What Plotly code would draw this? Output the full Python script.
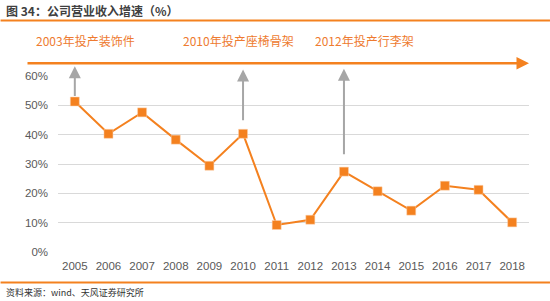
import plotly.graph_objects as go

years = ["2005", "2006", "2007", "2008", "2009", "2010", "2011",
         "2012", "2013", "2014", "2015", "2016", "2017", "2018"]
growth = [0.513, 0.403, 0.476, 0.383, 0.294, 0.403, 0.092,
          0.110, 0.274, 0.207, 0.141, 0.226, 0.212, 0.101]
y_ticks = [0, 0.1, 0.2, 0.3, 0.4, 0.5, 0.6]
y_tick_labels = ["0%", "10%", "20%", "30%", "40%", "50%", "60%"]

events = ["2005", "2010", "2013"]
event_tip = [0.633, 0.622, 0.625]
event_tail = [0.527, 0.444, 0.328]
event_labels = ["2003年投产装饰件", "2010年投产座椅骨架", "2012年投产行李架"]
event_label_x = [-0.052, 0.262, 0.542]

ORANGE = "#F4811F"
GREY_ARROW = "#A6A6A6"
TXT_ORANGE = "#EE7B30"

fig = go.Figure()
fig.add_trace(go.Scatter(
    x=years, y=growth, mode="lines+markers",
    line=dict(color=ORANGE, width=2),
    marker=dict(symbol="square", size=9, color=ORANGE,
                line=dict(color="#FAD3B0", width=0.5)),
    cliponaxis=False, showlegend=False,
))

annotations = []
for yr, tip, tail in zip(events, event_tip, event_tail):
    annotations.append(dict(
        x=years.index(yr), y=tip, xref="x", yref="y",
        ax=0, ay=tail, axref="pixel", ayref="y",
        text="", showarrow=True, arrowhead=2, arrowsize=1.2,
        arrowwidth=2, arrowcolor=GREY_ARROW,
    ))
for lab, lx in zip(event_labels, event_label_x):
    annotations.append(dict(
        x=lx, y=1.2, xref="paper", yref="paper", text=lab,
        showarrow=False, xanchor="left", yanchor="middle",
        font=dict(family="Noto Sans CJK SC", size=12, color=TXT_ORANGE),
    ))
# long orange timeline arrow
annotations.append(dict(
    x=1.0, y=1.072, xref="paper", yref="paper",
    ax=-503, ay=0, axref="pixel", ayref="pixel",
    text="", showarrow=True, arrowhead=2, arrowsize=1.0,
    arrowwidth=2.5, arrowcolor=ORANGE,
))
# title
annotations.append(dict(
    x=3, y=10, xref="paper", yref="paper", text="<b>图 34：公司营业收入增速（%）</b>",
    showarrow=False, xanchor="left", yanchor="middle",
    font=dict(family="Noto Sans CJK SC", size=12, color="#404040"),
))
# source
annotations.append(dict(
    x=3, y=293, xref="paper", yref="paper", text="资料来源：wind、天风证券研究所",
    showarrow=False, xanchor="left", yanchor="middle",
    font=dict(family="Noto Sans CJK SC", size=9, color="#333333"),
))

L, R, T, B = 57.5, 21, 75.7, 48.7
W, H = 550, 301
pw, ph = W - L - R, H - T - B
for a in annotations[-2:]:
    a["x"] = (a["x"] - L) / pw
    a["y"] = (H - B - a["y"]) / ph

shapes = [
    dict(type="line", xref="paper", yref="paper",
         x0=-L / pw, x1=(W - L) / pw,
         y0=(H - B - 20) / ph, y1=(H - B - 20) / ph,
         line=dict(color=ORANGE, width=2)),
    dict(type="line", xref="paper", yref="paper",
         x0=-L / pw, x1=(W - L) / pw,
         y0=(H - B - 283) / ph, y1=(H - B - 283) / ph,
         line=dict(color=ORANGE, width=2)),
]

fig.update_layout(
    width=W, height=H,
    margin=dict(l=L, r=R, t=T, b=B),
    paper_bgcolor="white", plot_bgcolor="white",
    annotations=annotations, shapes=shapes,
    font=dict(family="Liberation Sans, Arial", color="#595959"),
    xaxis=dict(type="category", range=[-0.5, len(years) - 0.5],
               showgrid=False, showline=False, zeroline=False,
               ticks="", tickfont=dict(size=11.5, color="#595959"),
               ticklabelstandoff=5),
    yaxis=dict(range=[0, 0.6], tickvals=y_ticks, ticktext=y_tick_labels,
               showgrid=True, gridcolor="#D9D9D9", gridwidth=1,
               zeroline=False, showline=False, ticks="",
               tickfont=dict(size=11.5, color="#595959"),
               ticklabelstandoff=9),
)

fig.write_html("out.html")
